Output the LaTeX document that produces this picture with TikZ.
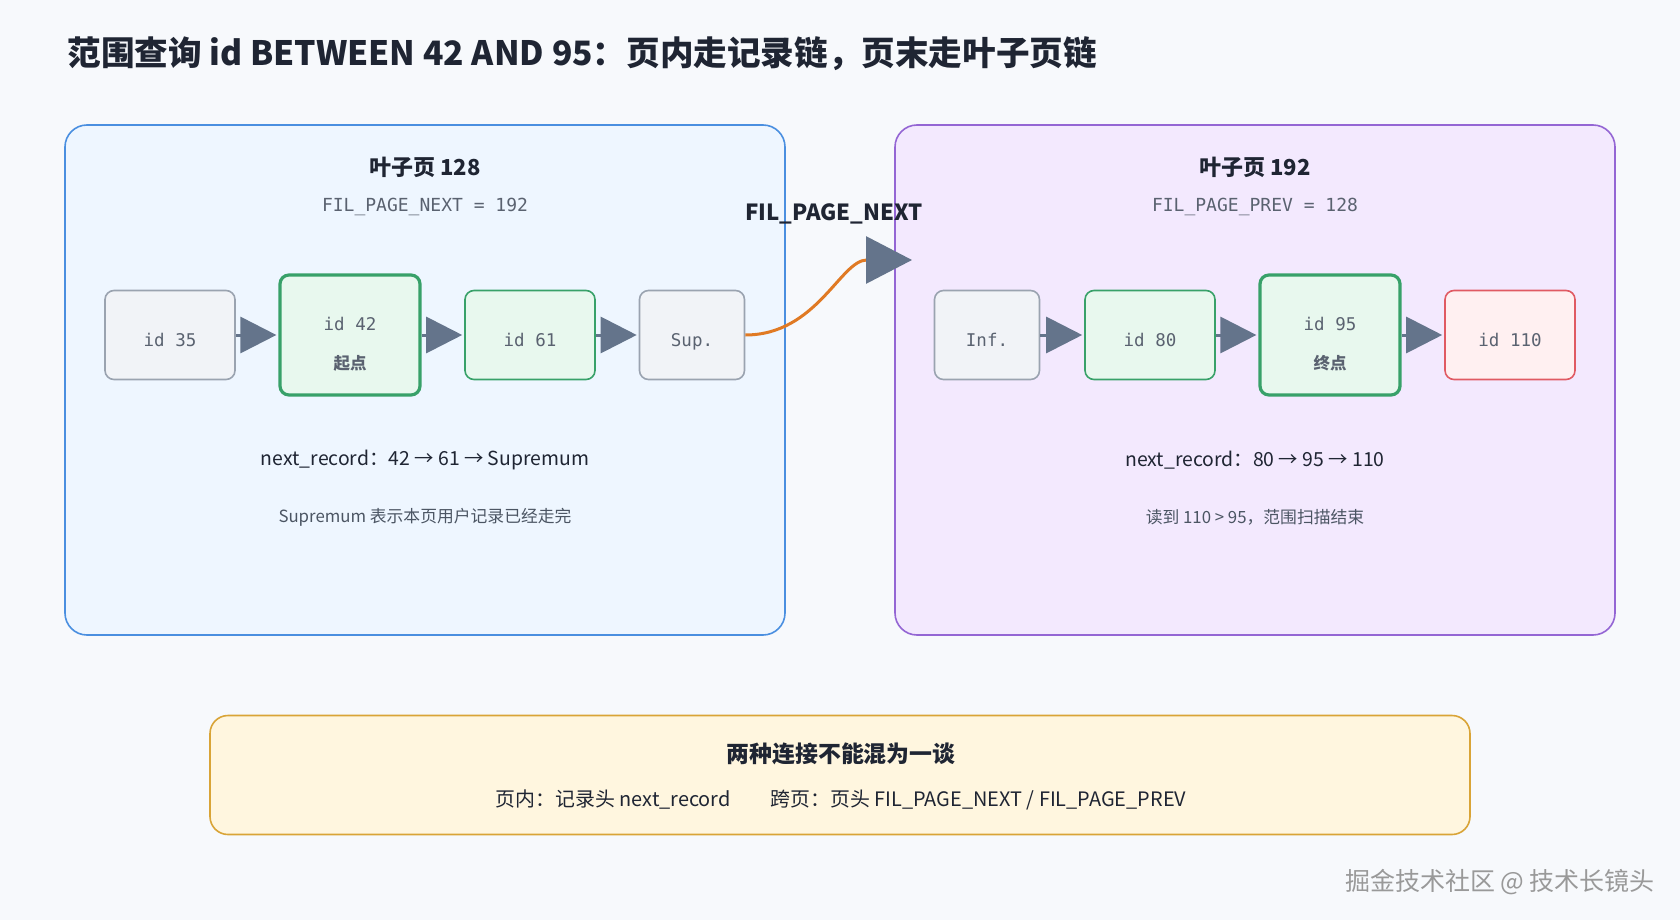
\documentclass[tikz,border=0pt]{standalone}
\usepackage{fontspec}
\setmainfont{Noto Sans CJK SC}
\setmonofont{DejaVu Sans Mono}
\usetikzlibrary{arrows.meta}

\definecolor{pagebg}{HTML}{F7F9FC}
\definecolor{inkdark}{HTML}{1F2533}
\definecolor{inkgray}{HTML}{4B5563}
\definecolor{monogray}{HTML}{5A6270}
\definecolor{leftfill}{HTML}{EEF6FF}
\definecolor{leftline}{HTML}{4A8FE0}
\definecolor{rightfill}{HTML}{F3E9FE}
\definecolor{rightline}{HTML}{9466D4}
\definecolor{recfill}{HTML}{F1F3F7}
\definecolor{recline}{HTML}{9AA3B0}
\definecolor{hitfill}{HTML}{E8F8EE}
\definecolor{hitline}{HTML}{38A169}
\definecolor{stopfill}{HTML}{FFF0F1}
\definecolor{stopline}{HTML}{E05A63}
\definecolor{notefill}{HTML}{FFF6DF}
\definecolor{noteline}{HTML}{D9A437}
\definecolor{arrowgray}{HTML}{64748B}
\definecolor{jumpline}{HTML}{E07A24}

\begin{document}
\begin{tikzpicture}[x=1pt, y=-1pt,
    page/.style={draw, line width=1.6pt, rounded corners=22pt, minimum width=720pt, minimum height=510pt},
    rec/.style={draw=recline, fill=recfill, line width=1.6pt, rounded corners=9pt,
        minimum width=130pt, minimum height=89pt, align=center, text=monogray,
        text height=26pt, text depth=4pt, font=\ttfamily\fontsize{17.5}{39}\selectfont},
    hit/.style={rec, draw=hitline, fill=hitfill},
    bound/.style={hit, line width=3.2pt, minimum width=140pt, minimum height=120pt, text height=73pt},
    stop/.style={rec, draw=stopline, fill=stopfill},
    link/.style={draw=arrowgray, line width=3pt, shorten >=2pt, -{Triangle[length=36pt,width=36pt]}},
    pagetitle/.style={font=\bfseries\fontsize{22}{26}\selectfont, text=inkdark},
    pagehead/.style={font=\ttfamily\fontsize{18}{21}\selectfont, text=monogray},
    chain/.style={font=\fontsize{19.4}{23}\selectfont, text=inkdark},
    remark/.style={font=\fontsize{16.8}{20}\selectfont, text=inkgray}]

    \useasboundingbox[fill=pagebg] (0,0) rectangle (1680,920);

    \node[anchor=west, font=\bfseries\fontsize{33.6}{40}\selectfont, text=inkdark] (title) at (64,54)
        {范围查询 id BETWEEN 42 AND 95：页内走记录链，页末走叶子页链};

    % leaf page 128
    \node[page, draw=leftline, fill=leftfill] (p128) at (425,380) {};
    \node[pagetitle] (t128) at (425,167) {叶子页 128};
    \node[pagehead] (h128) at (425,207) {FIL\_PAGE\_NEXT = 192};

    \node[rec] (r35) at (170,335) {id 35};
    \node[bound] (r42) at (350,335) {id 42\\{\rmfamily\bfseries\fontsize{16.5}{19}\selectfont 起点}};
    \node[hit] (r61) at (530,335) {id 61};
    \node[rec, minimum width=105pt] (sup) at (692,335) {Sup.};

    \draw[link] (r35) -- (r42);
    \draw[link] (r42) -- (r61);
    \draw[link] (r61) -- (sup);

    \node[chain] (c128) at (425,460) {next\_record：42 → 61 → Supremum};
    \node[remark] (n128) at (425,517) {Supremum 表示本页用户记录已经走完};

    % leaf page 192
    \node[page, draw=rightline, fill=rightfill] (p192) at (1255,380) {};
    \node[pagetitle] (t192) at (1255,167) {叶子页 192};
    \node[pagehead] (h192) at (1255,207) {FIL\_PAGE\_PREV = 128};

    \node[rec, minimum width=105pt] (inf) at (987,335) {Inf.};
    \node[hit] (r80) at (1150,335) {id 80};
    \node[bound] (r95) at (1330,335) {id 95\\{\rmfamily\bfseries\fontsize{16.5}{19}\selectfont 终点}};
    \node[stop] (r110) at (1510,335) {id 110};

    \draw[link] (inf) -- (r80);
    \draw[link] (r80) -- (r95);
    \draw[link] (r95) -- (r110);

    \node[chain] (c192) at (1255,460) {next\_record：80 → 95 → 110};
    \node[remark] (n192) at (1255,517) {读到 110 > 95，范围扫描结束};

    % jump between pages
    \coordinate (jumptip) at (912,260);
    \draw[jumpline, line width=3pt, -{Triangle[length=46pt,width=47pt,color=arrowgray]}]
        (sup.east) to[out=0, in=180] (jumptip);
    \node[font=\bfseries\fontsize{22.2}{26}\selectfont, text=inkdark] (jumplabel) at (834,214) {FIL\_PAGE\_NEXT};

    % note
    \node[draw=noteline, fill=notefill, line width=1.6pt, rounded corners=18pt,
        minimum width=1260pt, minimum height=119pt] (note) at (840,775) {};
    \node[font=\bfseries\fontsize{22.9}{27}\selectfont, text=inkdark] (notetitle) at (841,754) {两种连接不能混为一谈};
    \node[font=\fontsize{19.9}{24}\selectfont, text=inkdark] (notebody) at (841,800)
        {页内：记录头 next\_record\hspace{40pt}跨页：页头 FIL\_PAGE\_NEXT / FIL\_PAGE\_PREV};

    \node[font=\fontsize{25}{30}\selectfont, text=black!40] (mark) at (1500,882) {掘金技术社区 @ 技术长镜头};
\end{tikzpicture}
\end{document}
